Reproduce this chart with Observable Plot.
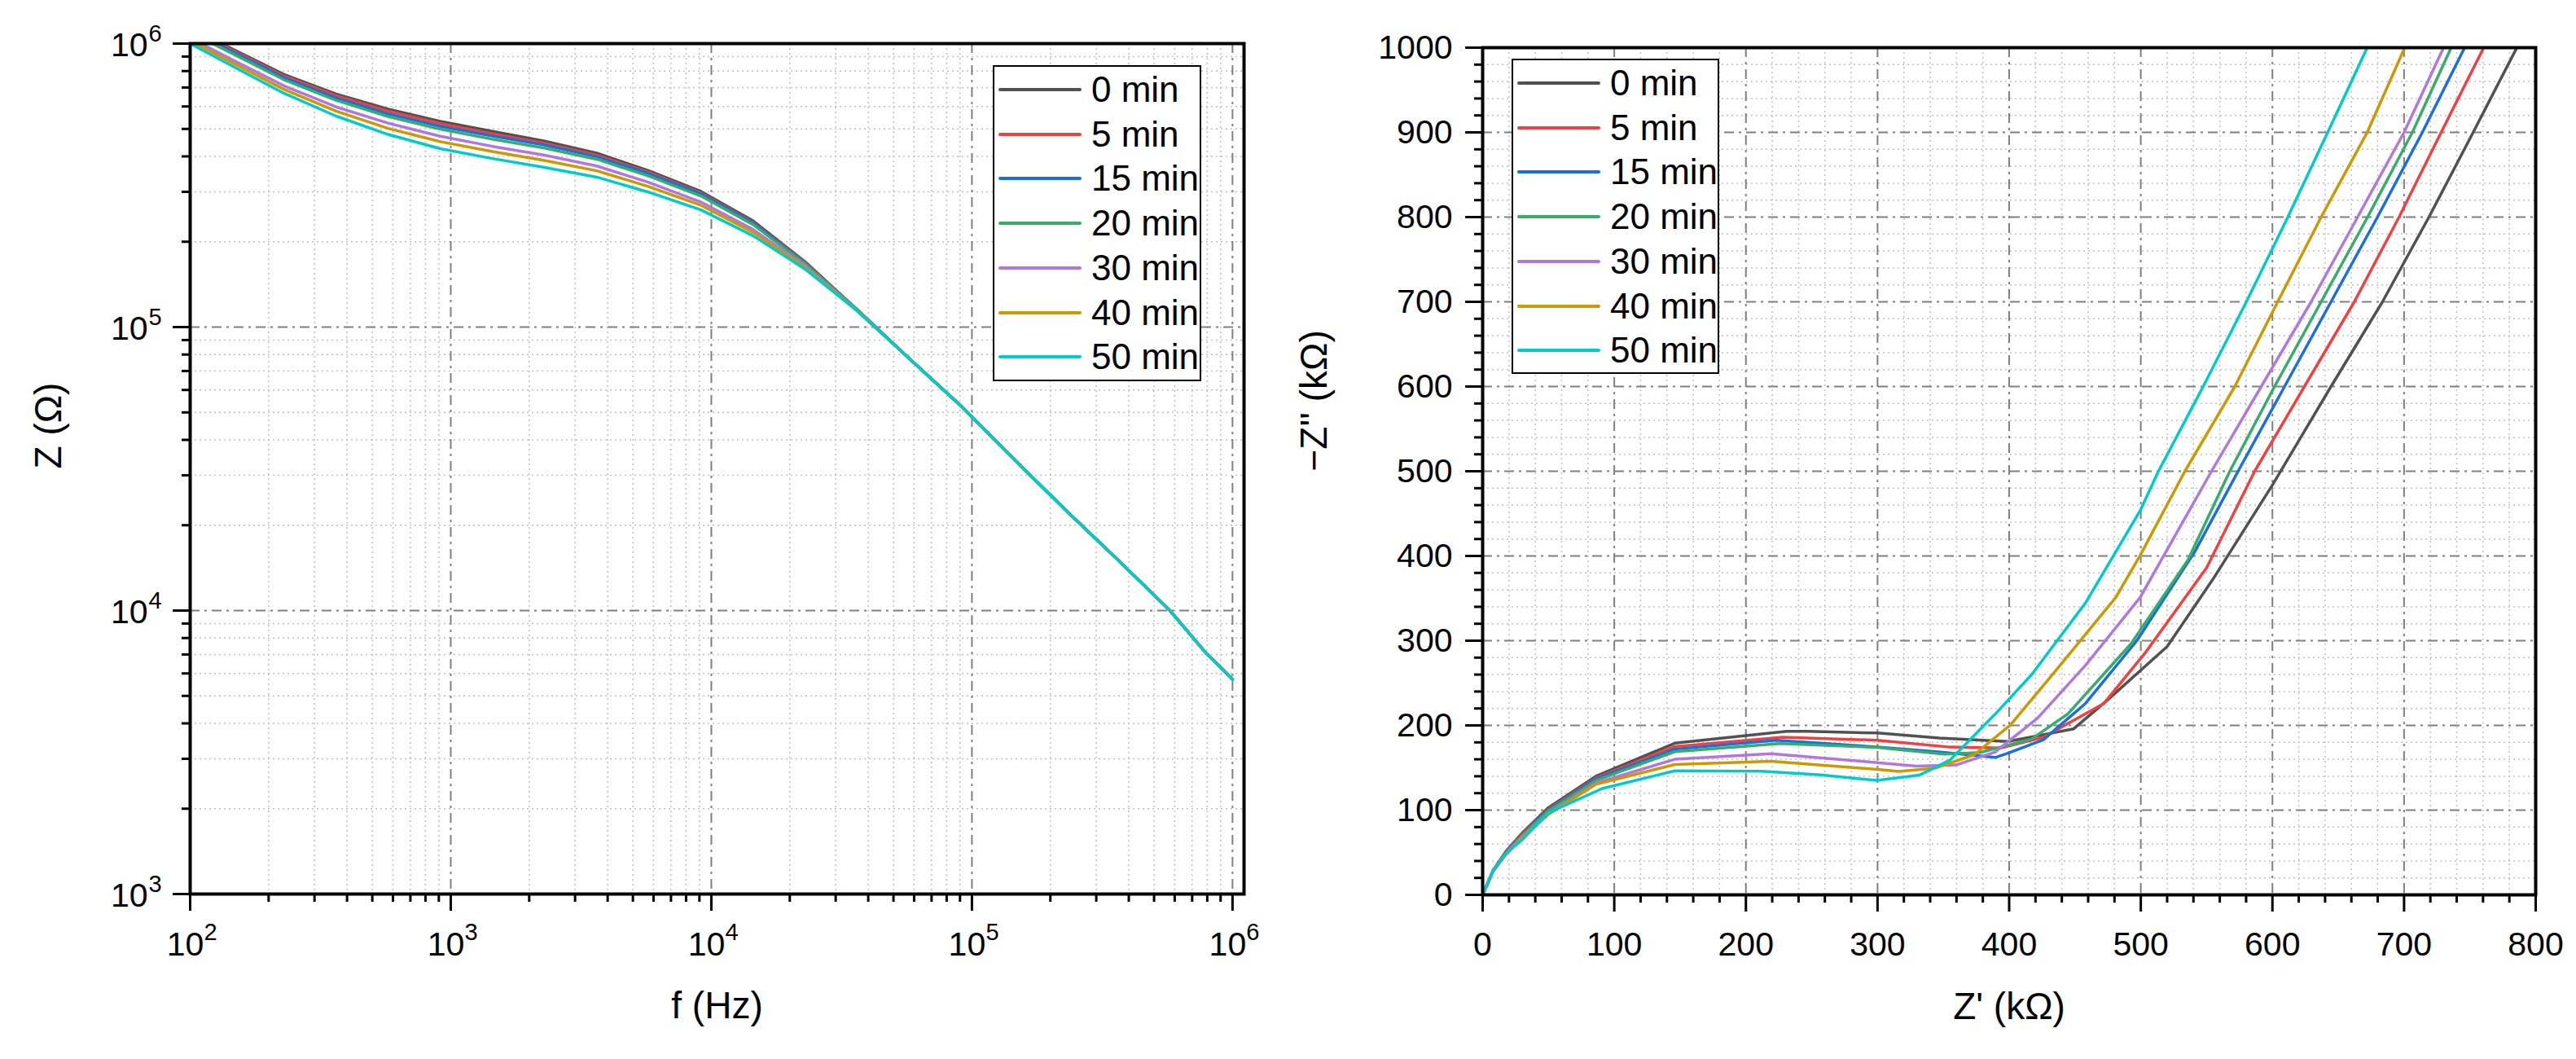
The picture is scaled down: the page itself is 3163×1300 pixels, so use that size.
<!DOCTYPE html>
<html>
<head>
<meta charset="utf-8">
<script src="https://cdn.jsdelivr.net/npm/d3@7"></script>
<script src="https://cdn.jsdelivr.net/npm/@observablehq/plot@0.6"></script>
<style>
  body { margin: 0; background: #fff; }
  #wrap { position: relative; width: 3163px; height: 1300px; font-family: "Liberation Sans", Arial, sans-serif; }
  .panel { position: absolute; top: 0; }
  .legend { position: absolute; border: 2px solid #000; background: #fff; box-sizing: border-box; }
  .legend .sw { position: absolute; left: 5px; width: 102px; height: 4px; border-radius: 2px; }
  .legend .lb { position: absolute; left: 119px; font-size: 44px; line-height: 44px; color: #000; white-space: nowrap; }
</style>
</head>
<body>
<div id="wrap"></div>
<script>
const FONT = "Liberation Sans, Arial, sans-serif";

const seriesNames = ["0 min", "5 min", "15 min", "20 min", "30 min", "40 min", "50 min"];
const colors = ["#515151", "#F14040", "#1A6FDF", "#37AD6B", "#B177DE", "#CC9900", "#00CBCC"];

// Bode magnitude: frequency (Hz) and |Z| (ohm) for each immersion time
const freq = [100, 145, 229, 363, 575, 912, 1445, 2291, 3631, 5754, 9120, 14454,
  22909, 36308, 57544, 91201, 144544, 229087, 363078, 575440, 794328, 1000000];
const z0  = [1135e3, 957e3, 778e3, 664e3, 587e3, 532e3, 490e3, 453e3, 411e3, 356e3, 301e3, 237e3,
  170e3, 115e3, 77.4e3, 52.5e3, 34.3e3, 22.6e3, 15.1e3, 10.0e3, 7.05e3, 5.73e3];
const z5  = [1127e3, 948e3, 769e3, 655e3, 578e3, 522e3, 481e3, 445e3, 404e3, 351e3, 297e3, 234e3,
  169e3, 115e3, 77.4e3, 52.5e3, 34.3e3, 22.6e3, 15.1e3, 10.0e3, 7.05e3, 5.73e3];
const z15 = [1114e3, 938e3, 759e3, 643e3, 565e3, 511e3, 472e3, 439e3, 399e3, 348e3, 295e3, 233e3,
  168e3, 115e3, 77.4e3, 52.5e3, 34.3e3, 22.6e3, 15.1e3, 10.0e3, 7.05e3, 5.73e3];
const z20 = [1096e3, 923e3, 746e3, 631e3, 553e3, 499e3, 460e3, 428e3, 391e3, 341e3, 290e3, 230e3,
  167e3, 115e3, 77.4e3, 52.5e3, 34.3e3, 22.6e3, 15.1e3, 10.0e3, 7.05e3, 5.73e3];
const z30 = [1047e3, 877e3, 710e3, 598e3, 524e3, 471e3, 434e3, 404e3, 370e3, 324e3, 276e3, 221e3,
  164e3, 114e3, 77.4e3, 52.5e3, 34.3e3, 22.6e3, 15.1e3, 10.0e3, 7.05e3, 5.73e3];
const z40 = [1023e3, 857e3, 690e3, 578e3, 502e3, 451e3, 416e3, 387e3, 356e3, 313e3, 269e3, 216e3,
  162e3, 114e3, 77.4e3, 52.5e3, 34.3e3, 22.6e3, 15.1e3, 10.0e3, 7.05e3, 5.73e3];
const z50 = [1000e3, 834e3, 668e3, 555e3, 478e3, 426e3, 393e3, 366e3, 338e3, 299e3, 259e3, 210e3,
  160e3, 114e3, 77.4e3, 52.5e3, 34.3e3, 22.6e3, 15.1e3, 10.0e3, 7.05e3, 5.73e3];

// Nyquist: Z' and -Z'' (kOhm)
const re0  = [0, 8, 18, 30, 50, 86, 146, 200, 231, 247, 300, 347, 399, 449, 474, 520, 555, 600.5, 644.5, 683.6, 718.9, 752.5, 785.7];
const im0  = [0, 29, 52, 73, 103, 140, 179, 188, 193, 193, 191, 185, 181, 196, 229, 293, 373, 485, 600, 700, 800, 900, 1000];
const re5  = [0, 8, 18, 30, 50, 86, 146, 228, 300, 355, 394, 426, 472, 504, 550, 586.5, 624.3, 662.2, 696.2, 728.2, 760.5];
const im5  = [0, 29, 51, 72, 101, 138, 175, 186, 182.5, 174.4, 173.4, 186, 226, 287, 386, 500, 600, 700, 800, 900, 1000];
const re15 = [0, 8, 18, 30, 50, 86, 146, 223, 300, 348, 389.4, 398.6, 426, 458, 497, 541, 573.9, 609.2, 644.5, 679.8, 713.9, 746];
const im15 = [0, 29, 50, 71, 100, 137, 172, 182.5, 174.5, 168.6, 162.2, 167, 183, 226, 300, 405, 500, 600, 700, 800, 900, 1000];
const re20 = [0, 8, 18, 30, 50, 86, 146, 226, 300, 350.5, 378, 417, 444.5, 492.7, 536, 567.6, 601.6, 637, 672.3, 706.3, 735.8];
const im20 = [0, 29, 50, 70, 99, 135, 169, 178.6, 174, 166, 168, 184, 213.4, 296.6, 395.8, 500, 600, 700, 800, 900, 1000];
const re30 = [0, 8, 18, 30, 50, 86, 146, 219, 300, 329.8, 359.6, 389.4, 421.5, 458, 499.5, 553.7, 591.5, 629.4, 664.7, 700, 730];
const im30 = [0, 29, 49, 68, 96, 132, 160, 166.7, 156, 152, 153.3, 168.6, 208.6, 271, 351, 500, 600, 700, 800, 900, 1000];
const re40 = [0, 8, 18, 30, 50, 86, 146, 219, 300, 316, 343.6, 373.4, 401, 435.3, 481, 499.5, 533.5, 571.4, 604, 637, 672, 700.5];
const im40 = [0, 28, 48, 67, 95, 130.5, 153.8, 157.7, 148, 145.6, 149.5, 165.4, 200.6, 264.6, 351, 400.6, 500, 600, 700, 800, 900, 1000];
const re50 = [0, 8, 17.4, 30, 49.5, 90.8, 145.9, 212, 257, 299.5, 332, 355, 389.4, 417, 458, 499.5, 513.4, 547.4, 580.2, 611.7, 642, 672];
const im50 = [0, 28, 48.3, 65, 96.5, 125.5, 146.4, 146, 141.6, 135, 141.4, 159, 213.4, 259.8, 344.6, 453.4, 500, 600, 700, 800, 900, 1000];

// tick values
const decF = [1e2, 1e3, 1e4, 1e5, 1e6];
const decZ = [1e3, 1e4, 1e5, 1e6];
const majorRe = [0, 100, 200, 300, 400, 500, 600, 700, 800];
const majorIm = [0, 100, 200, 300, 400, 500, 600, 700, 800, 900, 1000];

const minorLog = (decs) => decs.flatMap(d => [2, 3, 4, 5, 6, 7, 8, 9].map(m => m * d));
const minorF = minorLog([1e2, 1e3, 1e4, 1e5]);
const minorZ = minorLog([1e3, 1e4, 1e5]);
const minorRe = d3.range(0, 801, 20).filter(v => v % 100 !== 0);
const minorIm = d3.range(0, 1001, 20).filter(v => v % 100 !== 0);

const bodeZ = [z0, z5, z15, z20, z30, z40, z50];
const bode = seriesNames.flatMap((s, k) => freq.map((f, i) => ({series: s, f, z: bodeZ[k][i]})));
const nyqRe = [re0, re5, re15, re20, re30, re40, re50];
const nyqIm = [im0, im5, im15, im20, im30, im40, im50];
const nyq = seriesNames.flatMap((s, k) => nyqRe[k].map((r, i) => ({series: s, re: r, im: nyqIm[k][i]})));

const minorGrid = {stroke: "#c2c2c2", strokeOpacity: 1, strokeWidth: 1.5, strokeDasharray: "2,4"};
const majorGrid = {stroke: "#808080", strokeOpacity: 1, strokeWidth: 2, strokeDasharray: "12,6,3,6"};
const sup = d => String(Math.round(Math.log10(d)));

const wrap = d3.select("#wrap");

/* left: Bode |Z| */
let left = Plot.plot({
  width: 1570,
  height: 1300,
  marginLeft: 233,
  marginRight: 43,
  marginTop: 53,
  marginBottom: 203,
  style: {fontFamily: FONT, background: "transparent", color: "#000"},
  x: {type: "log", domain: [100, 1.107e6], label: null},
  y: {type: "log", domain: [1e3, 1e6], label: null},
  color: {domain: seriesNames, range: colors},
  marks: [
    Plot.gridX(minorF, minorGrid),
    Plot.gridY(minorZ, minorGrid),
    Plot.gridX(decF.slice(1), majorGrid),
    Plot.gridY(decZ.slice(1, -1), majorGrid),
    Plot.line(bode, {x: "f", y: "z", z: "series", stroke: "series", strokeWidth: 3.5, clip: true}),
    Plot.frame({stroke: "#000", strokeWidth: 4}),
    Plot.axisX(minorF, {tickSize: 10, strokeWidth: 3, tickFormat: () => "", label: null}),
    Plot.axisX(decF, {tickSize: 21, strokeWidth: 3, tickFormat: () => "", label: null}),
    Plot.axisY(minorZ, {tickSize: 10, strokeWidth: 3, tickFormat: () => "", label: null}),
    Plot.axisY(decZ, {tickSize: 21, strokeWidth: 3, tickFormat: () => "", label: null}),
    // 10^n tick labels
    Plot.text(decF, {x: d => d, frameAnchor: "bottom", text: () => "10", dx: -6, dy: 75, lineAnchor: "bottom", fontSize: 41}),
    Plot.text(decF, {x: d => d, frameAnchor: "bottom", text: sup, textAnchor: "start", dx: 17, dy: 56, lineAnchor: "bottom", fontSize: 29}),
    Plot.text(decZ, {y: d => d, frameAnchor: "left", text: () => "10", textAnchor: "end", dx: -52, dy: 15, lineAnchor: "bottom", fontSize: 41}),
    Plot.text(decZ, {y: d => d, frameAnchor: "left", text: sup, textAnchor: "start", dx: -51, dy: -3, lineAnchor: "bottom", fontSize: 29}),
    Plot.text(["f (Hz)"], {frameAnchor: "bottom", dy: 152, lineAnchor: "bottom", fontSize: 46}),
    Plot.text(["Z (\u03A9)"], {frameAnchor: "left", dx: -173, rotate: -90, lineAnchor: "middle", fontSize: 46})
  ]
});

/* right: Nyquist */
let right = Plot.plot({
  width: 1583,
  height: 1300,
  marginLeft: 240,
  marginRight: 50,
  marginTop: 58,
  marginBottom: 202,
  style: {fontFamily: FONT, background: "transparent", color: "#000"},
  x: {domain: [0, 800], label: null},
  y: {domain: [0, 1000], label: null},
  color: {domain: seriesNames, range: colors},
  marks: [
    Plot.gridX(minorRe, minorGrid),
    Plot.gridY(minorIm, minorGrid),
    Plot.gridX(majorRe.slice(1, -1), majorGrid),
    Plot.gridY(majorIm.slice(1, -1), majorGrid),
    Plot.line(nyq, {x: "re", y: "im", z: "series", stroke: "series", strokeWidth: 3.5, clip: true}),
    Plot.frame({stroke: "#000", strokeWidth: 4}),
    Plot.axisX(minorRe, {tickSize: 10, strokeWidth: 3, tickFormat: () => "", label: null}),
    Plot.axisX(majorRe, {tickSize: 21, strokeWidth: 3, tickPadding: 24, fontSize: 41, tickFormat: d => String(d), label: null}),
    Plot.axisY(minorIm, {tickSize: 10, strokeWidth: 3, tickFormat: () => "", label: null}),
    Plot.axisY(majorIm, {tickSize: 21, strokeWidth: 3, tickPadding: 16, fontSize: 41, tickFormat: d => String(d), label: null}),
    Plot.text(["Z' (k\u03A9)"], {frameAnchor: "bottom", dy: 152, lineAnchor: "bottom", fontSize: 46}),
    Plot.text(["\u2212Z'' (k\u03A9)"], {frameAnchor: "left", dx: -206, rotate: -90, lineAnchor: "middle", fontSize: 46})
  ]
});

for (const svg of [left, right]) {
  d3.select(svg).selectAll("text").filter(function() { return this.textContent === ""; }).remove();
}

wrap.append("div").attr("class", "panel").style("left", "0px").node().append(left);
wrap.append("div").attr("class", "panel").style("left", "1580px").node().append(right);

function addLegend(x, y, w, h) {
  let box = wrap.append("div").attr("class", "legend")
    .style("left", x + "px").style("top", y + "px")
    .style("width", w + "px").style("height", h + "px");
  seriesNames.forEach((s, i) => {
    const cy = 28 + i * 54.7;
    box.append("div").attr("class", "sw")
      .style("top", (cy - 2) + "px").style("background", colors[i]);
    box.append("div").attr("class", "lb")
      .style("top", (cy - 22) + "px").text(s);
  });
}
addLegend(1219, 80, 256, 388);
addLegend(1856, 72, 255, 387);
</script>
</body>
</html>
